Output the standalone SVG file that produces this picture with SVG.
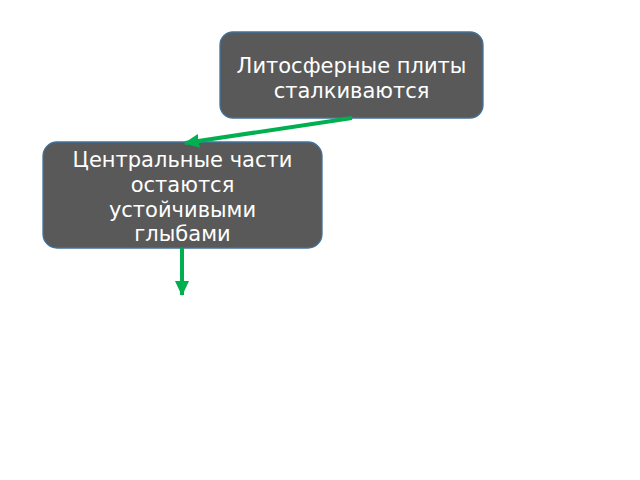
<svg xmlns="http://www.w3.org/2000/svg" width="640" height="480" viewBox="0 0 640 480">
<style>
.box{fill:#595959;stroke:#41719C;stroke-width:1.3}
.t{fill:#FFFFFF;font-family:"DejaVu Sans","Noto Sans",sans-serif;font-size:21px;text-anchor:middle}
.c{stroke:#00B050;stroke-width:4;fill:none}
</style>
<defs>
<marker id="ah" viewBox="0 0 15 14" refX="14" refY="7" markerWidth="15" markerHeight="14" orient="auto" markerUnits="userSpaceOnUse">
<path d="M0,0 L15,7 L0,14 Z" fill="#00B050"/>
</marker>
</defs>
<rect width="640" height="480" fill="#FFFFFF"/>
<g id="node1">
<rect class="box" x="220" y="32" width="263" height="86" rx="13"/>
<text class="t" x="351.5" y="73">Литосферные плиты</text>
<text class="t" x="351.5" y="98">сталкиваются</text>
</g>
<g id="node2">
<rect class="box" x="43" y="142" width="279" height="106" rx="14"/>
<text class="t" x="182.5" y="167">Центральные части</text>
<text class="t" x="182.5" y="192">остаются</text>
<text class="t" x="182.5" y="217">устойчивыми</text>
<text class="t" x="182.5" y="241">глыбами</text>
</g>
<g id="connectors">
<line class="c" x1="352" y1="118" x2="185" y2="143" marker-end="url(#ah)"/>
<line class="c" x1="182" y1="248" x2="182" y2="295" marker-end="url(#ah)"/>
</g>
</svg>
